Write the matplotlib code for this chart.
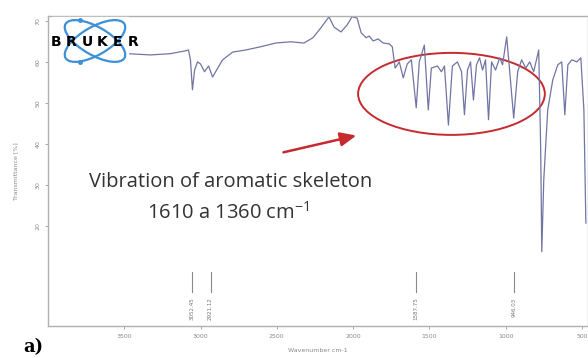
import matplotlib
matplotlib.use("Agg")
import matplotlib.pyplot as plt
from matplotlib.patches import Ellipse, FancyArrowPatch

# IR spectrum (wavenumber cm-1, transmittance %)
wavenumber = [3474, 3329, 3197, 3099, 3079, 3066, 3053, 3039, 3020, 3000,
              2974, 2947, 2921, 2895, 2855, 2789, 2704, 2605, 2507, 2408,
              2322, 2263, 2211, 2158, 2125, 2079, 2039, 2007, 1974, 1947,
              1914, 1895, 1868, 1836, 1803, 1763, 1743, 1724, 1697, 1671,
              1645, 1618, 1586, 1566, 1533, 1507, 1487, 1447, 1421, 1401,
              1375, 1349, 1316, 1289, 1270, 1250, 1230, 1211, 1191, 1171,
              1151, 1132, 1112, 1092, 1066, 1039, 1020, 993, 974, 947,
              921, 895, 868, 842, 816, 783, 770, 763, 750, 724,
              691, 658, 632, 612, 592, 566, 533, 507, 487, 474]
transmittance = [62.0, 61.7, 62.0, 62.7, 62.9, 60.5, 53.2, 58.0, 60.0, 59.5,
                 57.6, 59.0, 56.3, 58.0, 60.5, 62.4, 62.9, 63.7, 64.6, 64.9,
                 64.6, 65.9, 68.3, 71.0, 68.5, 67.3, 69.0, 71.0, 70.7, 67.1,
                 65.9, 66.3, 65.1, 65.6, 64.6, 64.4, 63.7, 58.5, 60.0, 56.1,
                 59.5, 60.5, 48.8, 60.0, 64.1, 48.3, 58.5, 59.0, 57.6, 59.0,
                 44.6, 59.0, 60.0, 57.6, 47.1, 58.0, 60.0, 50.7, 59.3, 61.0,
                 58.0, 60.5, 45.9, 60.0, 58.0, 61.0, 59.3, 66.1, 58.0, 46.3,
                 57.6, 60.5, 58.5, 60.0, 57.6, 62.9, 38.5, 13.7, 31.2, 48.3,
                 55.6, 59.3, 60.0, 47.1, 59.3, 60.5, 60.0, 61.0, 48.3, 20.7]

# peak picks shown at the bottom
peak_pos = [3053, 2934, 1586, 947]
peak_labels = ["3052.45", "2921.12", "1587.75", "946.03"]

xticks = [3500, 3000, 2500, 2000, 1500, 1000, 500]
yticks = [20, 30, 40, 50, 60, 70]

grey = "#9a9a9a"
line_col = "#7175a3"
red = "#c62a2f"

plt.rcParams["mathtext.fontset"] = "custom"
plt.rcParams["mathtext.rm"] = "Open Sans"

fig = plt.figure(figsize=(5.88, 3.58), dpi=100)
ax = fig.add_axes([0.0816, 0.0894, 0.9184, 0.866])

ax.plot(wavenumber, transmittance, color=line_col, lw=0.9)

# peak pick markers
for p, lab in zip(peak_pos, peak_labels):
    ax.plot([p, p], [3.9, 8.8], color="#8a8a8a", lw=0.8)
    ax.text(p, 2.6, lab, rotation=90, ha="center", va="top", fontsize=4, color="#777777")

ax.set_xlim(4000, 460)
ax.set_ylim(-4.4, 71.2)
ax.set_xticks(xticks)
ax.set_yticks(yticks)
ax.tick_params(axis="both", labelsize=4.5, colors=grey, length=2, width=0.6, labelcolor="#8a8a8a")
ax.tick_params(axis="y", labelrotation=90)
for lab in ax.get_yticklabels():
    lab.set_va("center")
for s in ax.spines.values():
    s.set_color("#b0b0b0")
    s.set_linewidth(1.0)
ax.set_ylabel("Transmittance [%]", fontsize=4.5, color="#8a8a8a", labelpad=12)
ax.set_xlabel("Wavenumber cm-1", fontsize=4.5, color="#8a8a8a", labelpad=7)

# annotation
ax.add_patch(Ellipse((1355, 52.2), 1224, 20, fill=False, edgecolor=red, lw=1.4))
ax.add_patch(FancyArrowPatch((2474, 37.8), (1961, 42.2), arrowstyle="-|>,head_length=0.8,head_width=0.35",
                             mutation_scale=12, color=red, lw=1.8))
ax.text(2800, 30.7, "Vibration of aromatic skeleton", fontsize=14.5, color="#333333",
        ha="center", va="center", family="Open Sans")
ax.text(2820, 23.1, "1610 a 1360 cm$^{\\mathrm{-1}}$", fontsize=14.5, color="#333333",
        ha="center", va="center", family="Open Sans")

# overlay in pixel coordinates for logo and panel label
ov = fig.add_axes([0, 0, 1, 1])
ov.set_xlim(0, 588)
ov.set_ylim(358, 0)
ov.axis("off")
ov.patch.set_alpha(0)

blue = "#3d8fd8"
ov.add_patch(plt.Rectangle((52, 17), 76, 50, color="white", zorder=1))
for ang in (30, -30):
    ov.add_patch(Ellipse((95, 41), 68, 28, angle=ang, fill=False, edgecolor=blue, lw=1.6, zorder=2))
ov.plot([80, 80], [20, 62], "o", color=blue, ms=2.5, zorder=2)
for i, ch in enumerate("BRUKER"):
    ov.text(56 + i * 15.5, 42, ch, fontsize=10, fontweight="heavy", color="black",
            ha="center", va="center", zorder=3)

ov.text(23, 347, "a)", fontsize=13, fontweight="bold", family="DejaVu Serif",
        ha="left", va="center")

fig.savefig("out.png", dpi=100)
